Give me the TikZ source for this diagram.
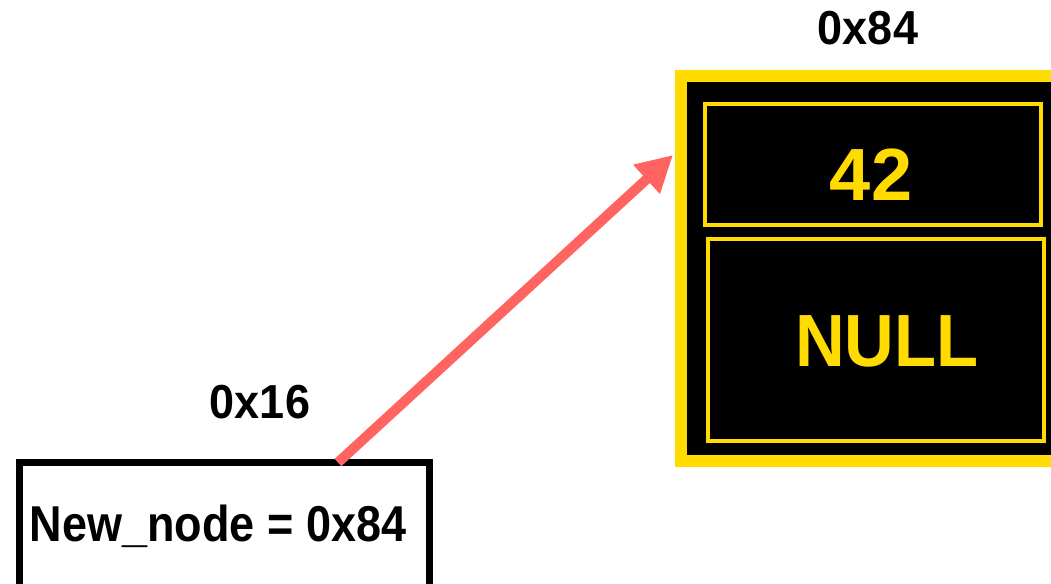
\documentclass[tikz,border=0pt]{standalone}
\usepackage{fontspec}
\setmainfont{Liberation Sans}
\usetikzlibrary{arrows.meta}
\definecolor{ylw}{HTML}{FFDB00}
\definecolor{arrred}{HTML}{FF6461}
\begin{document}
\begin{tikzpicture}[x=1pt,y=-1pt,
  box/.style={rectangle, inner sep=0pt, outer sep=0pt},
  lbl/.style={inner sep=0pt, anchor=base, font=\fontsize{45}{50}\selectfont\bfseries},
  bigtxt/.style={inner sep=0pt, anchor=base, text=ylw, font=\fontsize{74}{80}\selectfont\bfseries},
  ptrarrow/.style={draw=arrred, line width=10pt, -{Triangle[length=36pt,width=37pt]}}]
\useasboundingbox (0,0) rectangle (1051,583);
\clip (0,0) rectangle (1051,583);
\fill[white] (0,0) rectangle (1051,583);
% memory block
\node[box, draw=ylw, fill=black, line width=12pt, minimum width=379pt, minimum height=385pt] (mem) at (870.5,268.5) {};
\node[box, draw=ylw, line width=4pt, minimum width=336pt, minimum height=121pt] (data) at (873,164.5) {};
\node[box, draw=ylw, line width=3.5pt, minimum width=336pt, minimum height=202pt] (next) at (876,340) {};
\node[bigtxt] (val) at (871,200) {42};
\node[bigtxt] (nul) at (887,366) {\scalebox{0.93}[1]{NULL}};
\node[lbl] (addr84) at (868,45) {\scalebox{1}[1.06]{0x84}};
% pointer box
\node[box, draw=black, line width=7pt, minimum width=410pt, minimum height=130pt] (ptr) at (224.5,527.5) {};
\node[lbl] (ptrtxt) at (218,541) {\scalebox{1}[1.12]{New\_node = 0x84}};
\node[lbl] (addr16) at (260,418) {\scalebox{1}[1.06]{0x16}};
% arrow
\draw[ptrarrow] ([xshift=318.5pt]ptr.north west) -- ([xshift=-8pt,yshift=113.5pt]mem.west);
\end{tikzpicture}
\end{document}
